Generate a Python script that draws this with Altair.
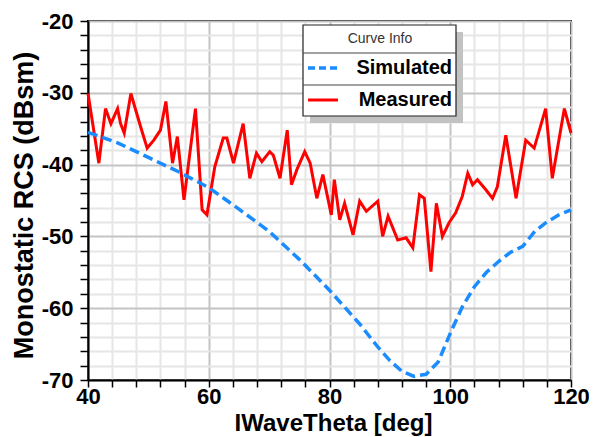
import altair as alt
import pandas as pd

# ---- data ----
series_names = ["Simulated", "Measured"]
series_colors = ["#1a8cff", "#ff0000"]

sim_theta = [40, 42, 45, 50, 55, 60, 65, 70, 75, 80, 85, 88, 90, 92, 94, 96, 98,
             100, 102, 104, 106, 108, 110, 112, 114, 116, 118, 120]
sim_rcs = [-35.5, -36.1, -37.0, -39.0, -41.0, -43.2, -46.2, -49.3, -53.2, -57.5,
           -62.2, -65.4, -67.3, -68.8, -69.5, -69.2, -67.5, -63.5, -59.8, -57.0,
           -55.0, -53.5, -52.2, -51.4, -49.3, -48.0, -47.0, -46.3]

meas_theta = [40.0, 41.8, 42.9, 43.8, 44.9, 45.4, 46.0, 47.1, 48.7, 49.8, 50.9, 52.0,
              52.9, 54.0, 54.8, 55.9, 57.8, 58.9, 59.7, 61.0, 62.4, 63.0, 64.1, 65.7,
              66.8, 67.9, 68.8, 70.1, 70.7, 71.8, 73.0, 73.7, 74.6, 75.9, 76.8, 77.9,
              78.9, 80.3, 80.8, 81.7, 82.5, 83.9, 85.0, 86.1, 88.0, 88.8, 89.7, 91.3,
              92.7, 93.8, 94.9, 95.7, 96.8, 97.7, 98.7, 99.8, 100.9, 102.0, 102.9,
              103.7, 104.5, 105.9, 107.0, 107.8, 109.2, 110.9, 112.5, 113.9, 115.8,
              116.9, 118.9, 120.0]
meas_rcs = [-30.1, -39.8, -32.2, -34.3, -32.2, -34.3, -35.6, -30.1, -34.7, -37.7, -36.6,
            -35.2, -31.2, -39.8, -36.1, -44.9, -32.2, -46.3, -47.0, -40.3, -36.3, -36.3,
            -39.8, -34.3, -41.9, -38.4, -39.6, -38.2, -38.7, -41.9, -35.2, -42.8, -40.7,
            -38.2, -39.8, -44.7, -41.4, -47.0, -42.1, -47.7, -45.4, -49.8, -45.1, -46.5,
            -45.1, -50.0, -47.2, -50.5, -50.2, -51.6, -44.2, -44.7, -54.9, -45.4, -50.0,
            -48.1, -46.7, -44.4, -41.2, -42.8, -42.1, -43.5, -44.7, -43.1, -35.9, -44.7,
            -36.6, -37.7, -32.2, -41.9, -32.2, -35.6]

x_ticks = list(range(40, 121, 4))
y_ticks = list(range(-70, -19, 2))

legend_title = "Curve Info"
x_title = "IWaveTheta [deg]"
y_title = "Monostatic RCS (dBsm)"

sim_df = pd.DataFrame({"theta": sim_theta, "rcs": sim_rcs})
meas_df = pd.DataFrame({"theta": meas_theta, "rcs": meas_rcs})

FONT = "Liberation Sans"

xscale = alt.Scale(domain=[40, 120], nice=False, zero=False)
yscale = alt.Scale(domain=[-70, -20], nice=False, zero=False)

grid_color = {"condition": {"test": "datum.value % 20 === 0", "value": "#c4c4c4"}, "value": "#e6e6e6"}
grid_color_y = {"condition": {"test": "datum.value % 10 === 0", "value": "#c4c4c4"}, "value": "#e6e6e6"}

xaxis = alt.Axis(
    values=x_ticks, tickCount=200, title=x_title, grid=True, gridColor=grid_color, gridWidth=2,
    labelExpr="datum.value % 20 === 0 ? '' + datum.value : ''",
    labelFont=FONT, labelFontSize=22, labelFontWeight="bold", labelColor="black",
    labelPadding=-1, tickSize=7, tickColor="black", tickWidth=1.5,
    domainColor="black", domainWidth=2, labelFlush=False, labelOverlap=False,
    titleFont=FONT, titleFontSize=24, titleFontWeight="bold", titleColor="black",
    titleX=245, titleY=43, titleAlign="center", titleBaseline="middle",
)
yaxis = alt.Axis(
    values=y_ticks, tickCount=200, title=y_title, grid=True, gridColor=grid_color_y, gridWidth=2,
    labelExpr="datum.value % 10 === 0 ? '' + datum.value : ''",
    labelFont=FONT, labelFontSize=22, labelFontWeight="bold", labelColor="black",
    labelPadding=7, tickSize=8, tickColor="black", tickWidth=1.5,
    domainColor="black", domainWidth=2, labelFlush=False, labelOverlap=False,
    titleFont=FONT, titleFontSize=27, titleFontWeight="bold", titleColor="black",
    titleAngle=270, titleX=-64, titleY=184, titleAlign="center", titleBaseline="middle",
)

meas_line = alt.Chart(meas_df).mark_line(color=series_colors[1], strokeWidth=3).encode(
    x=alt.X("theta:Q", scale=xscale, axis=xaxis),
    y=alt.Y("rcs:Q", scale=yscale, axis=yaxis),
)
sim_line = alt.Chart(sim_df).mark_line(color=series_colors[0], strokeWidth=3.5,
                                       strokeDash=[10, 5]).encode(
    x=alt.X("theta:Q", scale=xscale),
    y=alt.Y("rcs:Q", scale=yscale),
)

one = alt.Data(values=[{"k": 0}])

# legend box (drawn in pixel space of the plot area)
shadow = alt.Chart(one).mark_rect(color="#c2c2c2").encode(
    x=alt.value(222), x2=alt.value(375), y=alt.value(11), y2=alt.value(102))
box = alt.Chart(one).mark_rect(fill="white", stroke="#222222", strokeWidth=1.2).encode(
    x=alt.value(215), x2=alt.value(368), y=alt.value(4), y2=alt.value(95))
sep1 = alt.Chart(one).mark_rule(color="#444444", strokeWidth=1).encode(
    x=alt.value(215), x2=alt.value(368), y=alt.value(32))
sep2 = alt.Chart(one).mark_rule(color="#444444", strokeWidth=1).encode(
    x=alt.value(215), x2=alt.value(368), y=alt.value(64))
head = alt.Chart(alt.Data(values=[{"t": legend_title}])).mark_text(
    font=FONT, fontSize=14, color="#333333", align="center", baseline="middle").encode(
    x=alt.value(292), y=alt.value(18), text="t:N")

sample_sim = alt.Chart(one).mark_rule(color=series_colors[0], strokeWidth=3.5,
                                      strokeDash=[7, 4]).encode(
    x=alt.value(220), x2=alt.value(250), y=alt.value(47))
sample_meas = alt.Chart(one).mark_rule(color=series_colors[1], strokeWidth=3).encode(
    x=alt.value(220), x2=alt.value(250), y=alt.value(79))
lab_sim = alt.Chart(alt.Data(values=[{"t": series_names[0]}])).mark_text(
    font=FONT, fontSize=20, fontWeight="bold", color="black", align="right",
    baseline="middle").encode(x=alt.value(364), y=alt.value(47), text="t:N")
lab_meas = alt.Chart(alt.Data(values=[{"t": series_names[1]}])).mark_text(
    font=FONT, fontSize=20, fontWeight="bold", color="black", align="right",
    baseline="middle").encode(x=alt.value(364), y=alt.value(79), text="t:N")

chart = alt.layer(
    meas_line, sim_line, shadow, box, sep1, sep2, head,
    sample_sim, sample_meas, lab_sim, lab_meas,
).properties(
    width=483, height=359,
    autosize=alt.AutoSizeParams(type="none"),
    padding={"left": 80, "top": 13, "right": 18, "bottom": 57},
    background="white",
).configure_view(stroke="black", strokeWidth=2)

chart.save("out.html", embed_options={"renderer": "svg", "actions": False})
